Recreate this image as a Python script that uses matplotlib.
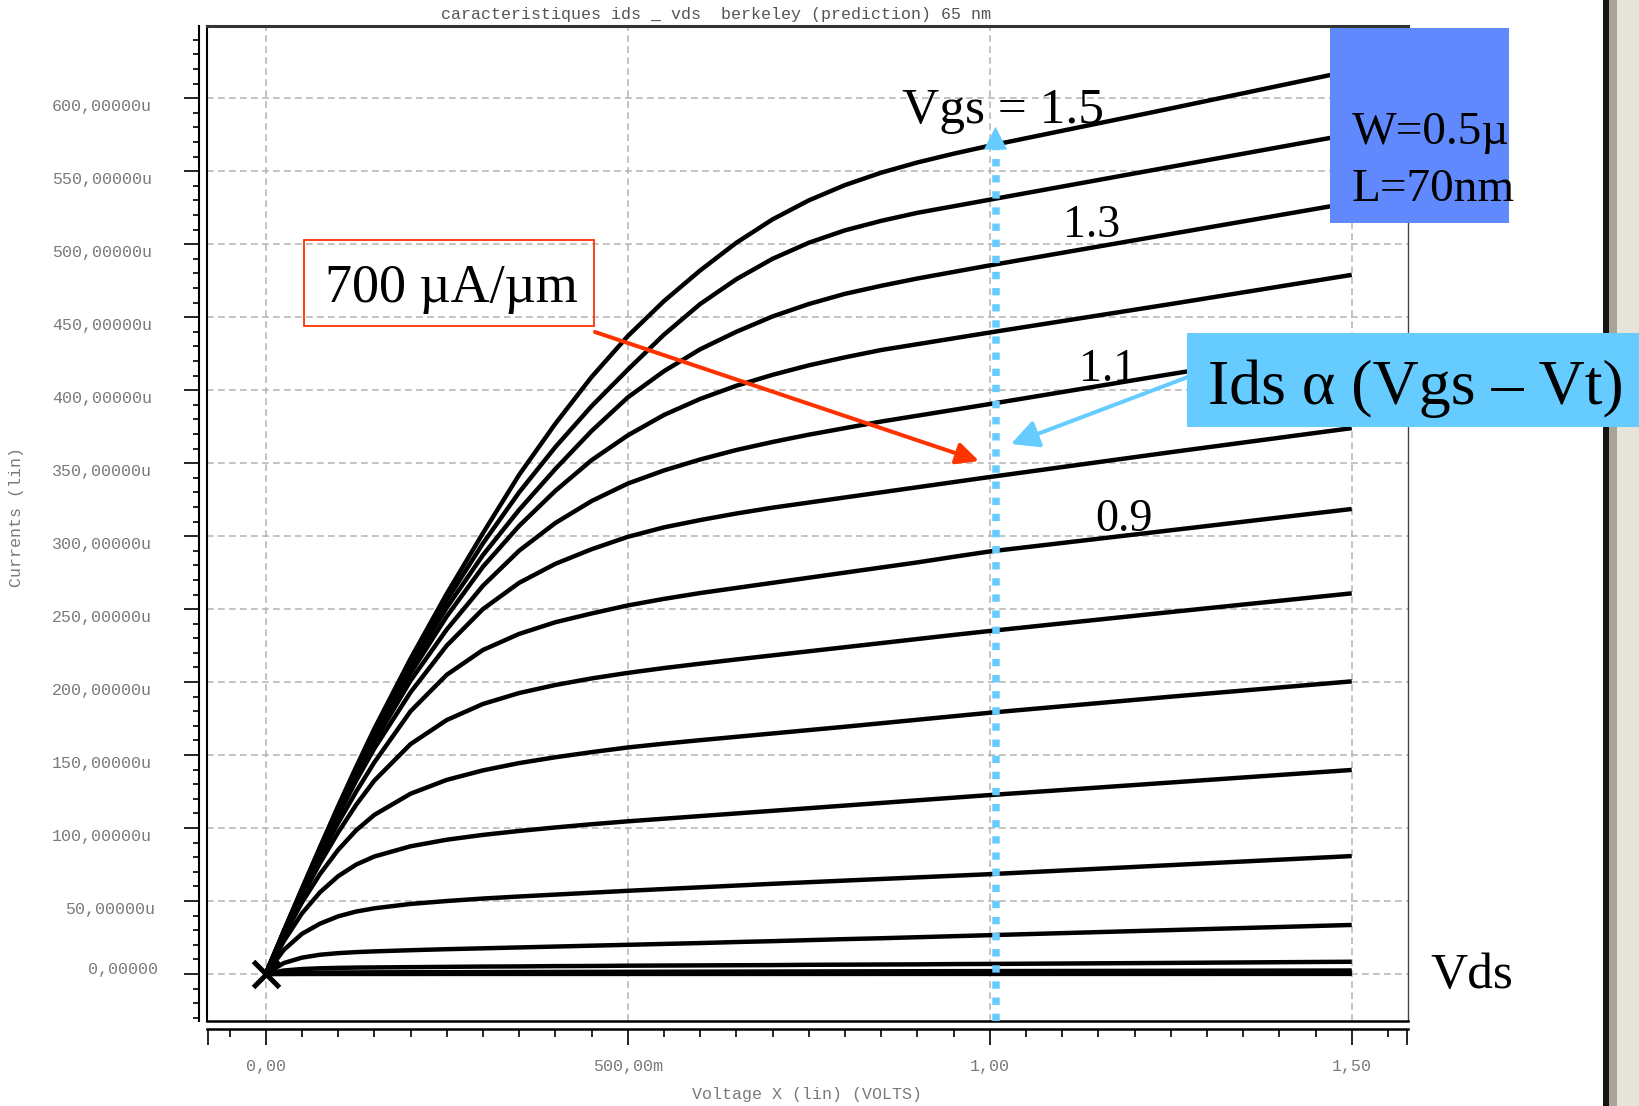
import matplotlib
matplotlib.use("Agg")
import matplotlib.pyplot as plt
from matplotlib.patches import Rectangle, FancyArrowPatch
from matplotlib import transforms

# ---- output characteristics: Ids (uA) vs Vds (V), one list per Vgs ----
vds = [0, 0.025, 0.05, 0.075, 0.1, 0.125, 0.15, 0.2, 0.25, 0.3, 0.35, 0.4, 0.45,
       0.5, 0.55, 0.6, 0.65, 0.7, 0.75, 0.8, 0.85, 0.9, 0.95, 1.0, 1.25, 1.5]

vgs = [1.5, 1.4, 1.3, 1.2, 1.1, 1.0, 0.9, 0.8, 0.7, 0.6, 0.5, 0.4, 0.3, 0.2, 0.1, 0.0]

ids_vgs_15 = [0, 29.5, 58.5, 87, 115, 142, 168, 216, 260.5, 302, 342, 377, 409,
              437, 461, 482, 501, 517, 530, 540.5, 549, 556, 562, 567.5, 593, 619]
ids_vgs_14 = [0, 29.3, 58, 86.3, 114, 140.5, 166, 213, 256, 295, 330, 361, 389,
              414, 438, 459, 476, 490, 501, 509.5, 516, 521.5, 526, 530.5, 553, 575.5]
ids_vgs_13 = [0, 29.2, 57.6, 85.6, 113, 139, 164, 210, 251, 287, 318, 346, 372,
              395, 413, 428, 440, 450.5, 459, 466, 471.5, 476.5, 481, 485.5, 507, 528.5]
ids_vgs_12 = [0, 29, 57.2, 85, 112, 137.5, 162, 206, 245, 279, 307, 331, 352,
              369, 383, 394, 403, 410.5, 417, 422.5, 427.5, 431.5, 435.5, 439.5, 459, 479]
ids_vgs_11 = [0, 28.8, 56.8, 84, 110.5, 135.5, 159, 201, 236, 266, 290, 309, 324,
              336, 345, 352.5, 359, 364.5, 369.5, 374, 378.5, 382.5, 386.5, 390.5, 411, 431]
ids_vgs_10 = [0, 28.5, 56, 83, 108.5, 132.5, 154.5, 193, 225, 250, 268, 281, 291,
              299.5, 306, 311, 315.5, 319.5, 323, 326.5, 330, 333.5, 337, 340.5, 357.5, 374]
ids_vgs_09 = [0, 28, 54.5, 80, 103.5, 125, 145, 180, 205, 222, 233, 241, 247,
              252.5, 257, 261, 264.5, 268, 271.5, 275, 278.5, 282, 285.8, 289.5, 304, 318.6]
ids_vgs_08 = [0, 27.5, 53, 76, 97, 116, 132.5, 157.5, 174, 185, 192.5, 198, 202.5,
              206.3, 209.6, 212.6, 215.5, 218.3, 221.1, 223.9, 226.7, 229.5, 232.3, 235, 248, 260.8]
ids_vgs_07 = [0, 26, 49, 68.5, 85, 98.5, 109, 123.5, 133, 139.5, 144.5, 148.5, 152,
              155.2, 157.8, 160.2, 162.5, 164.8, 167.1, 169.4, 171.8, 174.2, 176.6, 179, 190, 200.5]
ids_vgs_06 = [0, 22.5, 41.5, 56, 67, 75, 80.5, 87.5, 92, 95.3, 98, 100.4, 102.6,
              104.6, 106.4, 108.2, 110, 111.8, 113.6, 115.4, 117.2, 119, 120.8, 122.6, 131.2, 139.8]
ids_vgs_05 = [0, 16.5, 27.5, 34.5, 39.5, 42.8, 45, 48, 50, 51.7, 53.1, 54.4, 55.7,
              57, 58.2, 59.4, 60.6, 61.8, 62.9, 64, 65.1, 66.2, 67.3, 68.4, 74.6, 80.8]
ids_vgs_04 = [0, 7.5, 11.2, 13.2, 14.3, 15, 15.5, 16.3, 17, 17.6, 18.2, 18.8, 19.4,
              20, 20.6, 21.2, 21.9, 22.5, 23.2, 23.9, 24.5, 25.2, 25.9, 26.6, 30.1, 33.6]
ids_vgs_03 = [0, 2.4, 3.4, 3.9, 4.2, 4.4, 4.5, 4.7, 4.9, 5.1, 5.2, 5.4, 5.5,
              5.7, 5.8, 5.9, 6.0, 6.1, 6.3, 6.4, 6.5, 6.6, 6.8, 6.9, 7.6, 8.4]
ids_vgs_02 = [0, 0.6, 0.85, 1.0, 1.05, 1.1, 1.15, 1.2, 1.25, 1.3, 1.35, 1.4, 1.45,
              1.5, 1.55, 1.6, 1.65, 1.7, 1.75, 1.8, 1.85, 1.9, 1.95, 2.0, 2.2, 2.4]
ids_vgs_01 = [0, 0.1, 0.15, 0.17, 0.19, 0.2, 0.21, 0.22, 0.23, 0.24, 0.25, 0.26, 0.27,
              0.28, 0.29, 0.3, 0.31, 0.32, 0.33, 0.34, 0.35, 0.36, 0.37, 0.38, 0.42, 0.46]
ids_vgs_00 = [0, 0.01, 0.02, 0.02, 0.03, 0.03, 0.03, 0.03, 0.04, 0.04, 0.04, 0.04, 0.04,
              0.05, 0.05, 0.05, 0.05, 0.05, 0.05, 0.05, 0.06, 0.06, 0.06, 0.06, 0.06, 0.07]

ids_curves = [ids_vgs_15, ids_vgs_14, ids_vgs_13, ids_vgs_12, ids_vgs_11, ids_vgs_10,
              ids_vgs_09, ids_vgs_08, ids_vgs_07, ids_vgs_06, ids_vgs_05, ids_vgs_04,
              ids_vgs_03, ids_vgs_02, ids_vgs_01, ids_vgs_00]

y_ticks = [0, 50, 100, 150, 200, 250, 300, 350, 400, 450, 500, 550, 600]
y_tick_labels = ["0,00000", "50,00000u", "100,00000u", "150,00000u", "200,00000u",
                 "250,00000u", "300,00000u", "350,00000u", "400,00000u", "450,00000u",
                 "500,00000u", "550,00000u", "600,00000u"]
x_ticks = [0.0, 0.5, 1.0, 1.5]
x_tick_labels = ["0,00", "500,00m", "1,00", "1,50"]

title = "caracteristiques ids _ vds  berkeley (prediction) 65 nm"
x_label = "Voltage X (lin) (VOLTS)"
y_label = "Currents (lin)"

# ---- figure geometry (pixels, origin top-left) ----
W, H, DPI = 1640, 1106, 100
fig = plt.figure(figsize=(W / DPI, H / DPI), dpi=DPI)
fig.patch.set_facecolor("white")


def fx(px):
    return px / W


def fy(py):
    return 1 - py / H


def PT(px):
    return px * 72.0 / DPI


AX_L, AX_R, AX_T, AX_B = 207, 1408, 26, 1021
XLIM = (-0.0811, 1.5777)
YLIM = (-32.2, 649.5)

MONO = ["Liberation Mono", "DejaVu Sans Mono"]
SERIF = ["Liberation Serif", "DejaVu Serif"]
MONO_GRAY = "#7a7a7a"

ax = fig.add_axes([fx(AX_L), fy(AX_B), (AX_R - AX_L) / W, (AX_B - AX_T) / H])
ax.set_xlim(*XLIM)
ax.set_ylim(*YLIM)
ax.set_xticks([])
ax.set_yticks([])
ax.spines["left"].set_linewidth(1.5)
ax.spines["bottom"].set_linewidth(1.8)
ax.spines["top"].set_linewidth(2.2)
ax.spines["top"].set_color("#333333")
ax.spines["right"].set_linewidth(1.0)
ax.spines["right"].set_color("#444444")

# dashed grid
grid_kw = dict(color="#b3b3b3", lw=1.1, dashes=(4.4, 2.8), zorder=0)
for yv in y_ticks:
    ax.axhline(yv, **grid_kw)
for xv in x_ticks:
    ax.axvline(xv, **grid_kw)

# Ids-Vds curves
for row in ids_curves:
    ax.plot(vds, row, color="black", lw=3.2, solid_joinstyle="round",
            solid_capstyle="butt", zorder=3)

ax.plot([0], [0], marker="x", ms=19, mew=3.6, color="black", clip_on=False, zorder=5)

# ---- separate y tick strip ----
ays = fig.add_axes([fx(199), fy(AX_B), 1e-5, (AX_B - AX_T) / H])
ays.set_ylim(*YLIM)
ays.set_xlim(0, 1)
for s in ("top", "right", "bottom"):
    ays.spines[s].set_visible(False)
ays.spines["left"].set_linewidth(1.5)
ays.patch.set_visible(False)
ays.set_xticks([])
ays.set_yticks(y_ticks)
ays.set_yticks(list(range(-30, 641, 10)), minor=True)
ays.set_yticklabels([])
ays.tick_params(axis="y", which="major", direction="out", length=PT(15), width=1.2)
ays.tick_params(axis="y", which="minor", direction="out", length=PT(6.5), width=1.2)

lab_tr = transforms.blended_transform_factory(fig.transFigure, ax.transData)
for yv, lab in zip(y_ticks, y_tick_labels):
    if yv == 0:
        xr, dy = 158, 5
    elif yv == 50:
        xr, dy = 155, -8
    else:
        xr, dy = 152, -8
    ax.annotate(lab, xy=(fx(xr), yv), xycoords=lab_tr, xytext=(0, PT(dy)),
                textcoords="offset points", ha="right", va="center",
                fontsize=12, family=MONO, color=MONO_GRAY, annotation_clip=False)

# ---- separate x tick strip ----
axs = fig.add_axes([fx(AX_L), fy(1029), (AX_R - AX_L) / W, 1e-5])
axs.set_xlim(*XLIM)
axs.set_ylim(0, 1)
for s in ("top", "right", "left"):
    axs.spines[s].set_visible(False)
axs.spines["bottom"].set_linewidth(1.8)
axs.patch.set_visible(False)
axs.set_yticks([])
axs.set_xticks([XLIM[0] + 0.001] + x_ticks + [XLIM[1] - 0.001])
axs.set_xticklabels([""] + x_tick_labels + [""], family=MONO, fontsize=12, color=MONO_GRAY)
axs.set_xticks([-0.05 + 0.05 * i for i in range(33)], minor=True)
axs.tick_params(axis="x", which="major", direction="out", length=PT(16), width=1.2,
                pad=PT(14))
axs.tick_params(axis="x", which="minor", direction="out", length=PT(8), width=1.2)

# ---- axis texts ----
fig.text(fx(716), fy(14), title, ha="center", va="center", fontsize=12,
         family=MONO, color="#555555")
fig.text(fx(807), fy(1095), x_label, ha="center", va="center", fontsize=12,
         family=MONO, color=MONO_GRAY)
fig.text(fx(17), fy(517), y_label, ha="center", va="center", fontsize=12,
         family=MONO, color=MONO_GRAY, rotation=90)

# ---- window border on the right ----
fig.add_artist(Rectangle((fx(1603), 0), 6 / W, 1, transform=fig.transFigure,
                         facecolor="#151515", edgecolor="none", zorder=1))
fig.add_artist(Rectangle((fx(1609), 0), 8 / W, 1, transform=fig.transFigure,
                         facecolor="#a8a498", edgecolor="none", zorder=1))
fig.add_artist(Rectangle((fx(1617), 0), 23 / W, 1, transform=fig.transFigure,
                         facecolor="#e6e4da", edgecolor="none", zorder=1))

# ---- annotations ----
BLUE = "#6089fd"
LIGHT = "#66ccff"
RED = "#ff3300"

# Vds = 1.0 V marker with upward arrow
xv = 1.008
ax.plot([xv, xv], [YLIM[0], 567], color=LIGHT, lw=5.4, dashes=(0.98, 1.17),
        dash_capstyle="butt", clip_on=False, zorder=4)
ax.annotate("", xy=(xv, 580.5), xytext=(xv, 565.5),
            arrowprops=dict(arrowstyle="-|>,head_length=0.55,head_width=0.28",
                            mutation_scale=30, color=LIGHT, lw=0,
                            shrinkA=0, shrinkB=0), zorder=4)

# boxes
fig.add_artist(Rectangle((fx(1330), fy(223)), (1509 - 1330) / W, (223 - 28) / H,
                         transform=fig.transFigure, facecolor=BLUE, edgecolor="none",
                         zorder=2))
fig.add_artist(Rectangle((fx(1187), fy(427)), (1640 - 1187) / W, (427 - 333) / H,
                         transform=fig.transFigure, facecolor=LIGHT, edgecolor="none",
                         zorder=2))
fig.add_artist(Rectangle((fx(304), fy(326)), (594 - 304) / W, (326 - 240) / H,
                         transform=fig.transFigure, facecolor="none", edgecolor=RED,
                         lw=1.3, zorder=2))

# arrows
fig.add_artist(FancyArrowPatch((fx(595), fy(332)), (fx(979), fy(461)),
                               transform=fig.transFigure,
                               arrowstyle="-|>,head_length=0.45,head_width=0.22",
                               mutation_scale=30, color=RED, lw=2.9,
                               shrinkA=0, shrinkB=0, zorder=3))
fig.add_artist(FancyArrowPatch((fx(1188), fy(377)), (fx(1011), fy(444)),
                               transform=fig.transFigure,
                               arrowstyle="-|>,head_length=0.55,head_width=0.28",
                               mutation_scale=30, color=LIGHT, lw=2.9,
                               shrinkA=0, shrinkB=0, zorder=3))


def label(x, y, s, size, color="black"):
    fig.text(fx(x), fy(y), s, ha="left", va="baseline", fontsize=size,
             family=SERIF, color=color, zorder=5)


label(325, 302, "700 \u00b5A/\u00b5m", 39)
label(902, 123, "Vgs = 1.5", 37)
label(1063, 237, "1.3", 33)
label(1079, 381, "1.1", 33)
label(1095, 531, "0.9", 33)
label(1430, 988, "Vds", 37)
label(1352, 144, "W=0.5\u00b5", 34)
label(1352, 201, "L=70nm", 34)
label(1208, 404, "Ids \u03b1 (Vgs \u2013 Vt)", 46)

fig.savefig("out.png", dpi=DPI)
